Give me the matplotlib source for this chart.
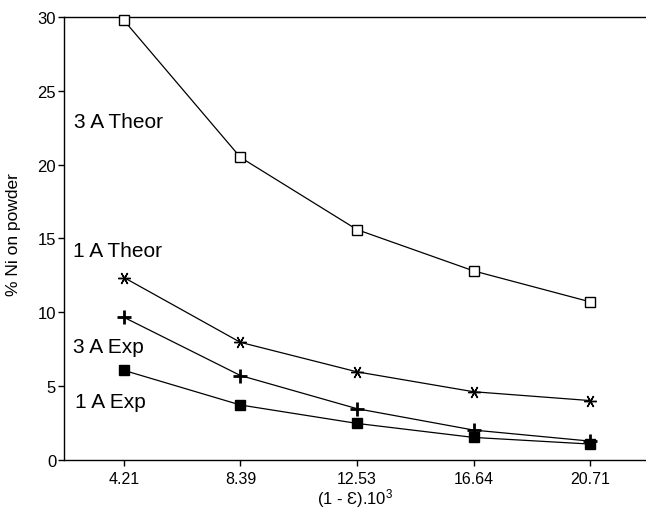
import matplotlib
matplotlib.use('Agg')
import matplotlib.pyplot as plt

plt.rcParams['font.family'] = ['Liberation Sans', 'DejaVu Sans']
plt.rcParams['mathtext.fontset'] = 'custom'
plt.rcParams['mathtext.rm'] = 'Liberation Sans'
plt.rcParams['mathtext.it'] = 'Liberation Sans:italic'

# data
x_labels = ['4.21', '8.39', '12.53', '16.64', '20.71']
theor_3a = [29.8, 20.5, 15.6, 12.8, 10.7]
theor_1a = [12.35, 7.95, 5.95, 4.6, 4.0]
exp_3a = [9.65, 5.7, 3.45, 2.0, 1.25]
exp_1a = [6.05, 3.7, 2.45, 1.5, 1.05]

# label texts with their spot (data coords)
labels = ['3 A Theor', '1 A Theor', '3 A Exp', '1 A Exp']
label_x = [0.57, 0.56, 0.56, 0.58]
label_y = [22.95, 14.15, 7.7, 3.95]

xpos = list(range(1, len(x_labels) + 1))

fig = plt.figure(figsize=(6.46, 5.10), dpi=100)
ax = fig.add_axes([0.0998, 0.097, 0.9002, 0.867])

lw = 0.9
ax.plot(xpos, theor_3a, color='black', lw=lw, marker='s', ms=7,
        mfc='white', mec='black', mew=1.0, clip_on=False, zorder=3)
ax.plot(xpos, theor_1a, color='black', lw=lw, marker=(6, 2, 90), ms=9,
        mec='black', mew=1.0, clip_on=False, zorder=3)
ax.plot(xpos, exp_3a, color='black', lw=lw, marker='+', ms=10,
        mew=2.0, clip_on=False, zorder=3)
ax.plot(xpos, exp_1a, color='black', lw=lw, marker='s', ms=7.5,
        mfc='black', mec='black', clip_on=False, zorder=3)

for txt, tx, ty in zip(labels, label_x, label_y):
    ax.text(tx, ty, txt, fontsize=15, ha='left', va='center')

ax.set_xlim(0.49, 5.48)
ax.set_ylim(0, 30)
ax.set_xticks(xpos)
ax.set_xticklabels(x_labels)
ax.set_yticks([0, 5, 10, 15, 20, 25, 30])

ax.spines['right'].set_visible(False)
for s in ['left', 'top', 'bottom']:
    ax.spines[s].set_linewidth(1.0)

ax.tick_params(axis='y', direction='out', length=4, width=1, pad=2, labelsize=12)
ax.tick_params(axis='x', direction='out', length=4, width=1, pad=4, labelsize=11.5)

ax.set_xlabel(r'(1 - Ɛ).10$^{3}$', fontsize=12, labelpad=0)
ax.set_ylabel('% Ni on powder', fontsize=12.5)
ax.yaxis.set_label_coords(-0.075, 0.51)

fig.savefig('out.png', dpi=100)
